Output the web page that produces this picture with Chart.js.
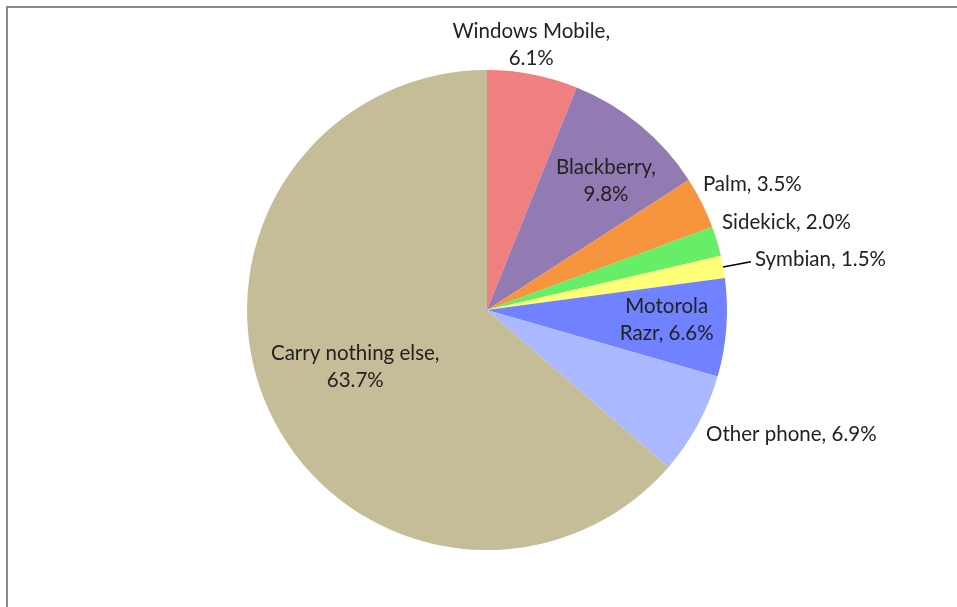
<!DOCTYPE html>
<html>
<head>
<meta charset="utf-8">
<script src="https://cdn.jsdelivr.net/npm/chart.js@4/dist/chart.umd.min.js"></script>
<style>
  html, body { margin: 0; padding: 0; background: #fff; }
  #wrap { position: relative; width: 957px; height: 607px; overflow: hidden; }
  #frame { position: absolute; left: 6px; top: 6px; width: 1000px; height: 700px;
           border-top: 2px solid #888; border-left: 2px solid #888; box-sizing: border-box; }
  canvas { position: absolute; left: 0; top: 0; }
</style>
</head>
<body>
<div id="wrap">
  <div id="frame"></div>
  <canvas id="c" width="957" height="607"></canvas>
</div>
<script>
const categories = ["Windows Mobile", "Blackberry", "Palm", "Sidekick", "Symbian", "Motorola Razr", "Other phone", "Carry nothing else"];
const values = [6.1, 9.8, 3.5, 2.0, 1.5, 6.6, 6.9, 63.7];
const colors = ["#F07F7F", "#927AB2", "#F7943E", "#66EE66", "#FFFF77", "#7082FF", "#AAB8FF", "#C4BD97"];
const labelLines = [
  ["Windows Mobile,", "6.1%"],
  ["Blackberry,", "9.8%"],
  ["Palm, 3.5%"],
  ["Sidekick, 2.0%"],
  ["Symbian, 1.5%"],
  ["Motorola", "Razr, 6.6%"],
  ["Other phone, 6.9%"],
  ["Carry nothing else,", "63.7%"]
];
// label placement: radius factor, angle shift (deg), text alignment, leader line
const labelPlace = [
  { r: 1.12, shift: -1.5, align: "center" },
  { r: 0.73, shift: 3.2, align: "center" },
  { r: 1.04, shift: -3.6, align: "left" },
  { r: 1.046, shift: -3.9, align: "left" },
  { r: 1.136, shift: -0.3, align: "left", leader: true },
  { r: 0.75, shift: -1.1, align: "center" },
  { r: 1.05, shift: 1.1, align: "left" },
  { r: 0.5975, shift: 1.3, align: "center" }
];

const labelPlugin = {
  id: "sliceLabels",
  afterDatasetsDraw(chart) {
    const ctx = chart.ctx;
    const meta = chart.getDatasetMeta(0);
    ctx.save();
    ctx.font = "20.5px Lato";
    ctx.fillStyle = "#222";
    ctx.textBaseline = "middle";
    const lh = 27;
    meta.data.forEach((arc, i) => {
      const p = arc.getProps(["x", "y", "startAngle", "endAngle", "outerRadius"], true);
      const place = labelPlace[i];
      const mid = (p.startAngle + p.endAngle) / 2;
      const a = mid + place.shift * Math.PI / 180;
      const R = p.outerRadius * place.r;
      const lx = p.x + Math.cos(a) * R;
      const ly = p.y + Math.sin(a) * R;
      if (place.leader) {
        const ex = p.x + Math.cos(mid) * p.outerRadius;
        const ey = p.y + Math.sin(mid) * p.outerRadius;
        ctx.strokeStyle = "#000";
        ctx.lineWidth = 1.5;
        ctx.beginPath();
        ctx.moveTo(ex, ey);
        ctx.lineTo(lx - 4, ly + 2);
        ctx.stroke();
      }
      ctx.textAlign = place.align;
      const lines = labelLines[i];
      const y0 = ly - (lines.length - 1) * lh / 2;
      lines.forEach((t, k) => ctx.fillText(t, lx, y0 + k * lh));
    });
    ctx.restore();
  }
};

new Chart(document.getElementById("c"), {
  type: "pie",
  data: {
    labels: categories,
    datasets: [{ data: values, backgroundColor: colors, borderWidth: 0 }]
  },
  options: {
    responsive: false,
    animation: false,
    layout: { padding: { left: 247, right: 230, top: 70, bottom: 57 } },
    plugins: { legend: { display: false }, tooltip: { enabled: false } }
  },
  plugins: [labelPlugin]
});
</script>
</body>
</html>
